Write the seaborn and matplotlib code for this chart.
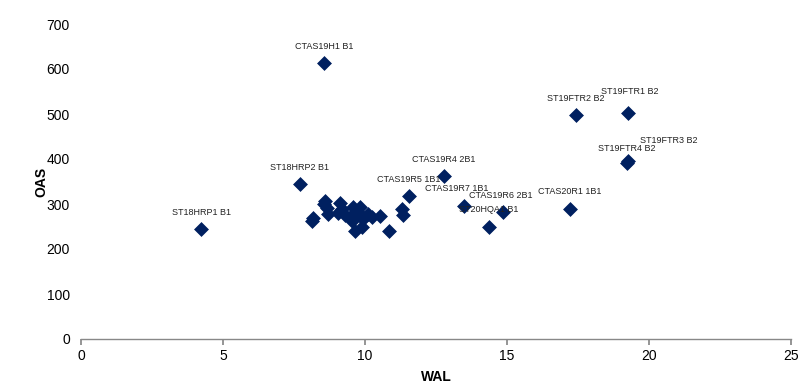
import matplotlib
matplotlib.use("Agg")
import matplotlib.pyplot as plt
import seaborn as sns
import pandas as pd


# ------------------------------------------------
# DATA
# ------------------------------------------------

labels = [
    "ST18HRP1 B1", "CTAS19H1 B1", "ST18HRP2 B1", "CTAS19R4 2B1",
    "CTAS19R5 1B1", "CTAS19R7 1B1", "CTAS19R6 2B1", "ST20HQA1 B1",
    "CTAS20R1 1B1", "ST19FTR2 B2", "ST19FTR1 B2", "ST19FTR4 B2",
    "ST19FTR3 B2",
]
labeled_wal = [4.23, 8.56, 7.71, 12.78, 11.55, 13.49, 14.86, 14.37,
               17.22, 17.43, 19.26, 19.23, 19.27]
labeled_oas = [244, 613, 344, 362, 317, 296, 282, 249,
               289, 497, 502, 391, 396]

# unlabeled bonds in the main cluster
cluster_wal = [8.13, 8.18, 8.56, 8.60, 8.66, 8.70, 9.12, 9.19, 9.05,
               9.30, 9.58, 9.82, 9.65, 9.48, 9.93, 10.1, 10.25, 10.53,
               9.65, 9.89, 10.85, 11.30, 11.34, 9.75, 9.55]
cluster_oas = [262, 270, 300, 307, 291, 278, 302, 289, 280,
               276, 293, 293, 271, 271, 267, 278, 271, 273,
               240, 249, 241, 289, 276, 283, 262]


# ------------------------------------------------
# STYLE
# ------------------------------------------------

sns.set_theme(style="white")
plt.rcParams["font.family"] = ["Liberation Sans", "DejaVu Sans"]
plt.rcParams["text.color"] = "black"
plt.rcParams["axes.labelcolor"] = "black"
plt.rcParams["xtick.color"] = "black"
plt.rcParams["ytick.color"] = "black"

MARKER_COLOR = "#002060"

# label offsets in pixels (dx, dy) relative to the point
label_offsets = {
    "ST19FTR1 B2": (2, 22),
    "ST19FTR3 B2": (40, 20),
    "ST19FTR4 B2": (0, 15),
    "CTAS19R7 1B1": (-7, 17),
    "CTAS19R6 2B1": (-2, 17),
}

df = pd.DataFrame({
    "WAL": labeled_wal + cluster_wal,
    "OAS": labeled_oas + cluster_oas,
})


# ------------------------------------------------
# PLOT
# ------------------------------------------------

fig = plt.figure(figsize=(8.12, 3.9), dpi=100)
ax = fig.add_axes([81 / 812, 51 / 390, 710 / 812, 315 / 390])

sns.scatterplot(
    data=df, x="WAL", y="OAS", marker="D", s=50,
    color=MARKER_COLOR, edgecolor=MARKER_COLOR, linewidth=0.5, ax=ax,
)

for name, x, y in zip(labels, labeled_wal, labeled_oas):
    dx, dy = label_offsets.get(name, (0, 17))
    ax.annotate(
        name, (x, y),
        xytext=(dx * 0.72, dy * 0.72), textcoords="offset points",
        ha="center", va="center", fontsize=6.5, color="#222222",
    )

ax.set_xlim(0, 25)
ax.set_ylim(0, 700)
ax.set_xticks(range(0, 26, 5))
ax.set_yticks(range(0, 701, 100))

for side in ["top", "right", "left"]:
    ax.spines[side].set_visible(False)
ax.spines["bottom"].set_color("#888888")
ax.spines["bottom"].set_linewidth(1)

ax.tick_params(axis="x", bottom=True, length=4, color="#888888",
               labelcolor="black", labelsize=10, pad=3)
ax.tick_params(axis="y", left=False, length=0, labelcolor="black",
               labelsize=10, pad=8)

ax.set_xlabel("WAL", fontsize=10, fontweight="bold", labelpad=5)
ax.set_ylabel("OAS", fontsize=10, fontweight="bold", labelpad=-1)

fig.savefig("out.png", dpi=100)
